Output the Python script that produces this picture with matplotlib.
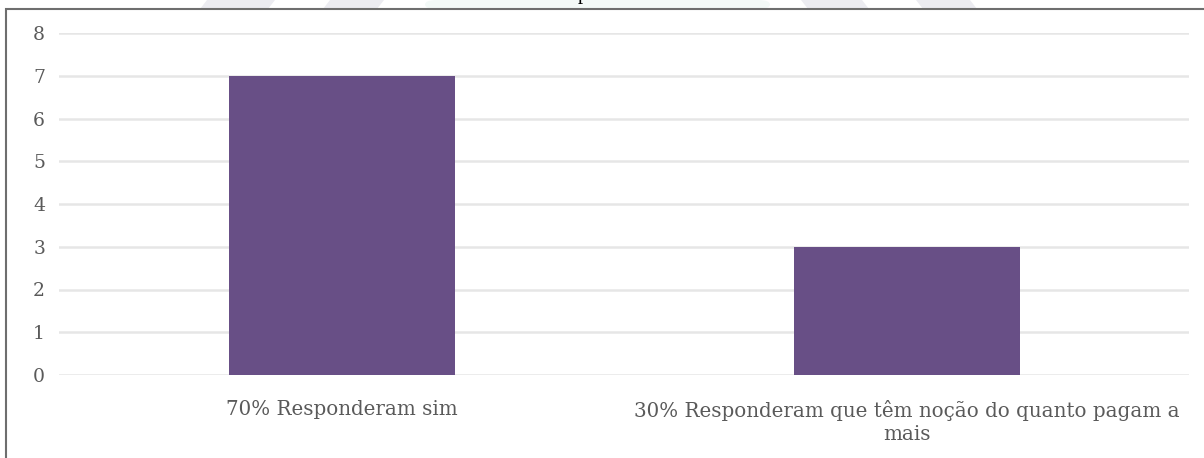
import matplotlib
matplotlib.use("Agg")
import matplotlib.pyplot as plt
from matplotlib.patches import Rectangle, Polygon, FancyBboxPatch

categories = ["70% Responderam sim",
              "30% Responderam que têm noção do quanto pagam a\nmais"]
values = [7, 3]
yticks = [0, 1, 2, 3, 4, 5, 6, 7, 8]

W, H = 1204, 458
fig = plt.figure(figsize=(W / 100, H / 100), dpi=100)
fig.patch.set_facecolor("white")


def px(xp, yp):
    return (xp / W, 1 - yp / H)


# faint watermark shapes visible above the frame
for x0, x1, s in [(200, 268, 1), (323, 377, 1), (808, 869, -1), (923, 977, -1)]:
    d = 7 * s
    fig.patches.append(Polygon([px(x0 + d, 0), px(x1 + d, 0), px(x1, 9), px(x0, 9)],
                               closed=True, transform=fig.transFigure,
                               facecolor="#ececf1", edgecolor="none", zorder=0))
fig.patches.append(FancyBboxPatch(px(425, 9), (770 - 425) / W, 9 / H,
                                  boxstyle="round,pad=0,rounding_size=0.01",
                                  transform=fig.transFigure,
                                  facecolor="#f3f9f7", edgecolor="none", zorder=0))

# outer border of the chart frame
fig.patches.append(Rectangle((6 / W, -0.1), 1.2, (H - 9) / H + 0.1,
                             transform=fig.transFigure, fill=False,
                             edgecolor="#6e6e6e", linewidth=1.5, zorder=1))
# cut-off caption letter at the very top
fig.text(583 / W, 1 + 1 / H, "p", family="Liberation Serif", fontsize=15,
         color="black", ha="center", va="baseline")

ax = fig.add_axes([59 / W, 83 / H, (1189 - 59) / W, (375 - 33) / H])
x = list(range(len(categories)))
ax.bar(x, values, width=0.4, color="#684F86", zorder=3)
ax.set_xlim(-0.5, 1.5)
ax.set_ylim(0, 8)
ax.set_yticks(yticks)
ax.set_yticklabels([str(t) for t in yticks])
ax.set_xticks(x)
ax.set_xticklabels(categories, ha="center", multialignment="center",
                   linespacing=1.25)
ax.grid(axis="y", color="#e6e6e6", linewidth=1.8, zorder=0)
for s in ax.spines.values():
    s.set_visible(False)
ax.tick_params(axis="both", length=0, labelcolor="#5a5a5a")
ax.tick_params(axis="y", pad=10, labelsize=13.5)
ax.tick_params(axis="x", pad=18, labelsize=14.3)
for lbl in ax.get_xticklabels() + ax.get_yticklabels():
    lbl.set_family("DejaVu Serif")

fig.savefig("out.png", dpi=100, facecolor="white")
